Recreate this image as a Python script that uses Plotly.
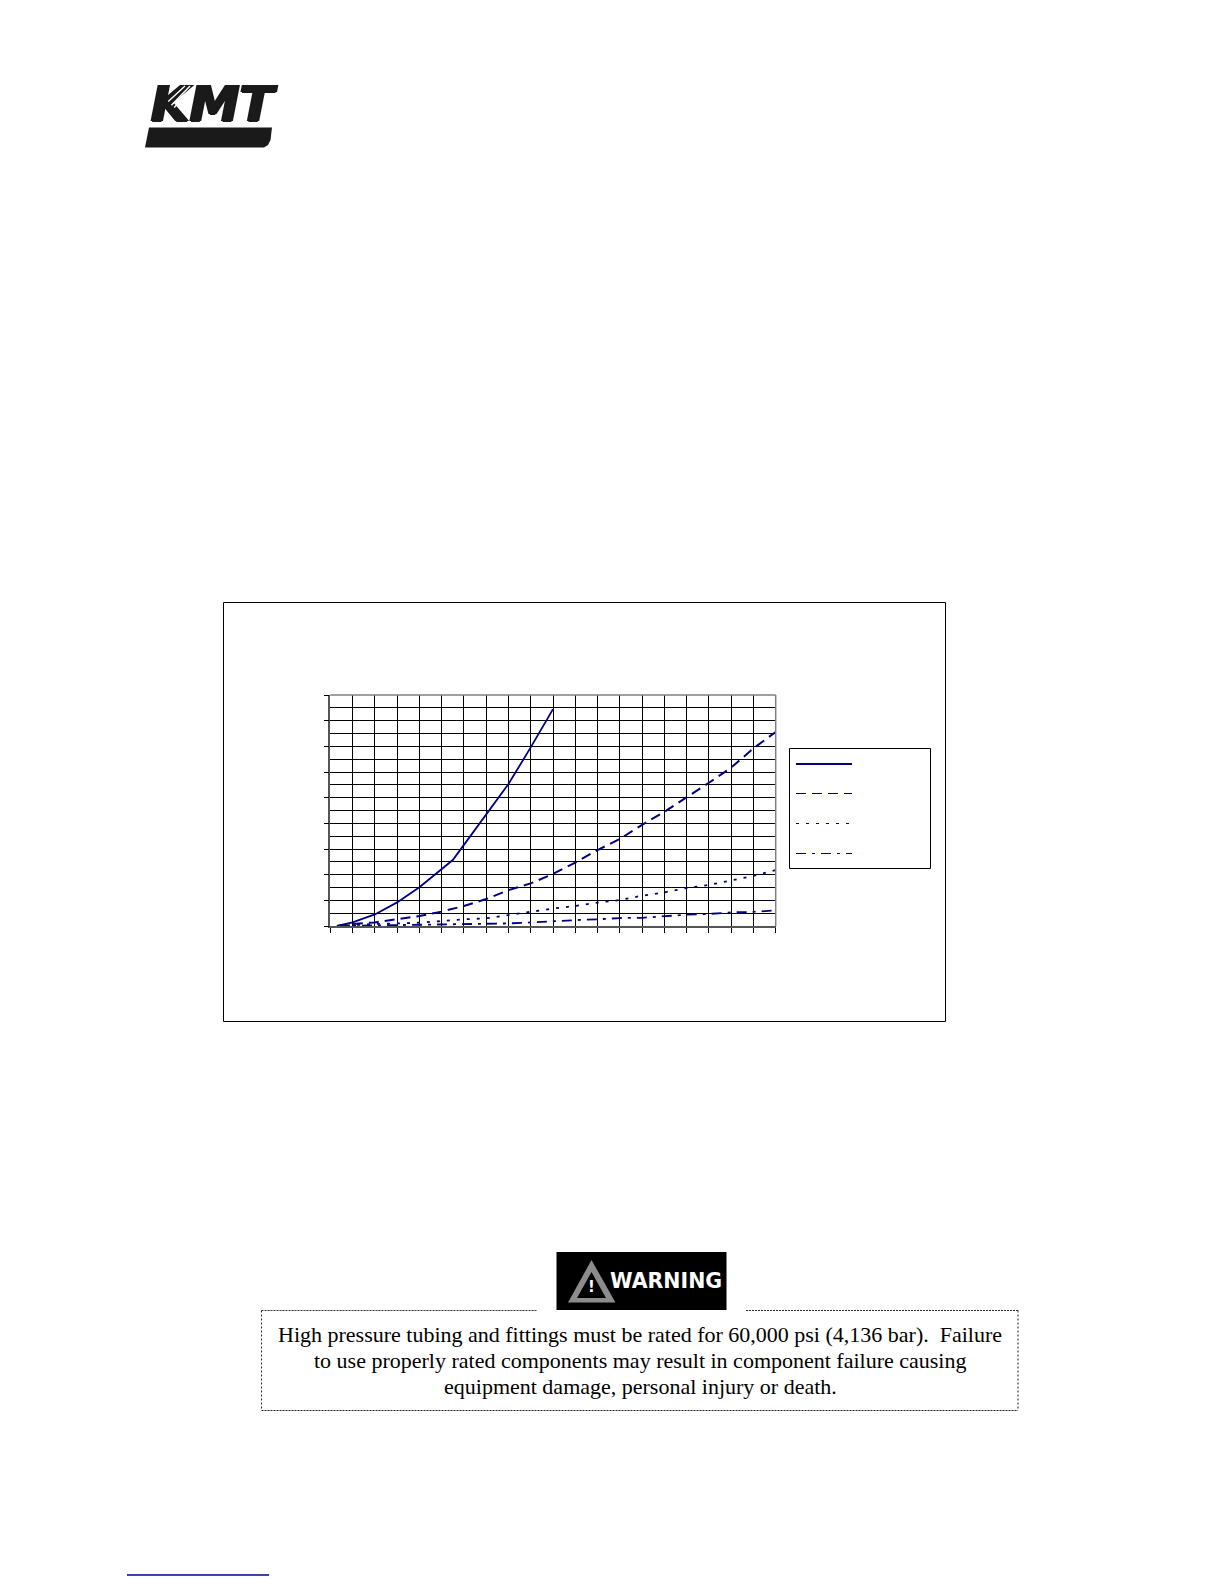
import plotly.graph_objects as go

# ---- data (x in grid intervals, y in major-tick units)
x_short = [0.3, 1, 2, 3, 4, 5, 5.5, 6, 7, 8, 9, 10]
series_a = [0, 0.14, 0.45, 0.92, 1.51, 2.22, 2.57, 3.16, 4.35, 5.53, 6.96, 8.45]
x_long = [0.3, 1, 2, 3, 4, 5, 6, 7, 8, 9, 10, 11, 12, 13, 14, 15, 16, 17, 18, 19, 20]
series_b = [0, 0.08, 0.14, 0.26, 0.39, 0.56, 0.78, 1.05, 1.40, 1.66, 2.03, 2.47, 2.96, 3.39, 3.94, 4.45, 5.00, 5.58, 6.17, 6.92, 7.56]
series_c = [0, 0.04, 0.08, 0.10, 0.13, 0.19, 0.26, 0.30, 0.43, 0.55, 0.68, 0.78, 0.91, 1.01, 1.18, 1.31, 1.48, 1.60, 1.79, 1.95, 2.18]
series_d = [0, 0.01, 0.01, 0.03, 0.04, 0.05, 0.06, 0.08, 0.10, 0.14, 0.19, 0.23, 0.26, 0.31, 0.32, 0.38, 0.44, 0.47, 0.53, 0.55, 0.61]

warning_lines = [
    "High pressure tubing and fittings must be rated for 60,000 psi (4,136 bar).\u00a0\u00a0Failure",
    "to use properly rated components may result in component failure causing",
    "equipment damage, personal injury or death.",
]

W, H = 1224, 1584
NAVY = "#000080"
DASH_B = "10px,6px"
DASH_C = "3px,7px"
DASH_D = "10px,6px,3px,6px"

def px(v):
    return v / W

def py(v):
    return 1 - v / H

def rect(x0, y0, x1, y1, **kw):
    return dict(type="rect", xref="paper", yref="paper", x0=px(x0), x1=px(x1), y0=py(y0), y1=py(y1), **kw)

def seg(x0, y0, x1, y1, color, width, dash="solid"):
    return dict(type="line", xref="paper", yref="paper", x0=px(x0), x1=px(x1), y0=py(y0), y1=py(y1),
                line=dict(color=color, width=width, dash=dash))

def poly(points, color):
    d = "M " + " L ".join(f"{px(a):.5f},{py(b):.5f}" for a, b in points) + " Z"
    return dict(type="path", xref="paper", yref="paper", path=d, fillcolor=color, line=dict(width=0))

fig = go.Figure()
for xs, ys, dash, width in [
    (x_short, series_a, "solid", 1.8),
    (x_long, series_b, DASH_B, 2),
    (x_long, series_c, DASH_C, 1.8),
    (x_long, series_d, DASH_D, 1.8),
]:
    fig.add_trace(go.Scatter(x=xs, y=ys, mode="lines", line=dict(color=NAVY, width=width, dash=dash),
                             showlegend=False, hoverinfo="skip"))

PL, PR, PT, PB = 330.3, 775.7, 695, 926
GRID = 1.3
fig.update_xaxes(domain=[px(PL), px(PR)], range=[0, 20], tick0=0, dtick=1, showticklabels=False,
                 ticks="outside", ticklen=5, tickcolor="black", tickwidth=1, showgrid=True,
                 gridcolor="black", gridwidth=GRID, zeroline=False, showline=True, linecolor="#555555", linewidth=1.5)
fig.update_yaxes(domain=[py(PB), py(PT)], range=[0, 9], tick0=0, dtick=1, showticklabels=False,
                 ticks="outside", ticklen=5, tickcolor="black", tickwidth=1, showgrid=True,
                 gridcolor="black", gridwidth=GRID, zeroline=False, showline=True, linecolor="#555555", linewidth=1.5,
                 minor=dict(dtick=0.5, showgrid=True, gridcolor="black", gridwidth=GRID, ticks=""))

shapes = [
    # chart frame
    rect(223.5, 602.5, 945.5, 1021.5, line=dict(color="black", width=1), fillcolor="rgba(0,0,0,0)", layer="below"),
    # plot border top/right
    seg(PL, PT, PR, PT, "#808080", 1.5),
    seg(PR, PT, PR, PB, "#808080", 1.5),
    # legend box and samples
    rect(789.5, 748.5, 930.5, 868.5, line=dict(color="black", width=1), fillcolor="white"),
    seg(796, 764, 852, 764, NAVY, 2),
    seg(796, 793.5, 852, 793.5, NAVY, 1, DASH_B),
    seg(796, 823.5, 852, 823.5, NAVY, 1, DASH_C),
    seg(796, 853.5, 852, 853.5, NAVY, 1, DASH_D),
    # logo bar
    poly([(149, 127.5), (272, 127.5), (270.5, 140), (268, 145), (264, 147.5), (145, 147.5)], "#1a1a1a"),
    # warning banner
    rect(556.5, 1252, 726.5, 1310, line=dict(width=0), fillcolor="black"),
    poly([(591.5, 1260), (568, 1302.5), (615.5, 1302.5)], "#8c8c8c"),
    poly([(591.5, 1272), (577, 1298), (606, 1298)], "black"),
    # warning box (dashed, gap under banner)
    seg(261.5, 1310.5, 537, 1310.5, "#333333", 1, "2px,1px"),
    seg(746, 1310.5, 1018, 1310.5, "#333333", 1, "2px,1px"),
    seg(261.5, 1410.5, 1018, 1410.5, "#222222", 1.2, "2px,1px"),
    seg(261.5, 1310.5, 261.5, 1410.5, "#222222", 1, "2px,2px"),
    seg(1018, 1310.5, 1018, 1410.5, "#222222", 1, "2px,2px"),
    # footer link rule
    seg(127, 1575, 269, 1575, "#00008b", 1.3),
]

# The white slashes through the logo K must paint over the lettering, so they are annotation arrows.
def slash(x0, y0, x1, y1):
    return dict(x=px(x1), y=py(y1), ax=x0 - x1, ay=y0 - y1, xref="paper", yref="paper", axref="pixel", ayref="pixel",
                text="", showarrow=True, arrowhead=0, arrowwidth=1.4, arrowcolor="white")

def note(text, cx, cy, size, color="black", family="Liberation Serif", bold=False, italic=False, shadow=None):
    if bold:
        text = f"<b>{text}</b>"
    if italic:
        text = f"<i>{text}</i>"
    font = dict(family=family, size=size, color=color)
    if shadow:
        font["shadow"] = shadow
    return dict(text=text, x=px(cx), y=py(cy), xref="paper", yref="paper", xanchor="center", yanchor="middle",
                showarrow=False, align="center", font=font)

annotations = [
    note("KMT", 215, 104, 50, "#1a1a1a", "DejaVu Sans", True, True,
         shadow="1.5px 0 #1a1a1a, -1.5px 0 #1a1a1a, 0 1px #1a1a1a"),
    slash(166.7, 103, 185, 86),
    slash(170, 106.7, 190, 86),
    slash(172.7, 109, 195, 86),
    note("WARNING", 665.5, 1281, 20.5, "white", "DejaVu Sans", True),
    note("!", 591.5, 1287, 15, "white", "DejaVu Sans", True),
]
for line, cy in zip(warning_lines, [1334, 1360, 1386]):
    annotations.append(note(line, 640, cy, 22))

fig.update_layout(width=W, height=H, margin=dict(l=0, r=0, t=0, b=0), autosize=False,
                  paper_bgcolor="white", plot_bgcolor="white", showlegend=False,
                  shapes=shapes, annotations=annotations)

fig.write_html("out.html", include_plotlyjs=True, config=dict(displayModeBar=False),
               post_script="document.body.style.margin='0';document.body.style.overflow='hidden';")
